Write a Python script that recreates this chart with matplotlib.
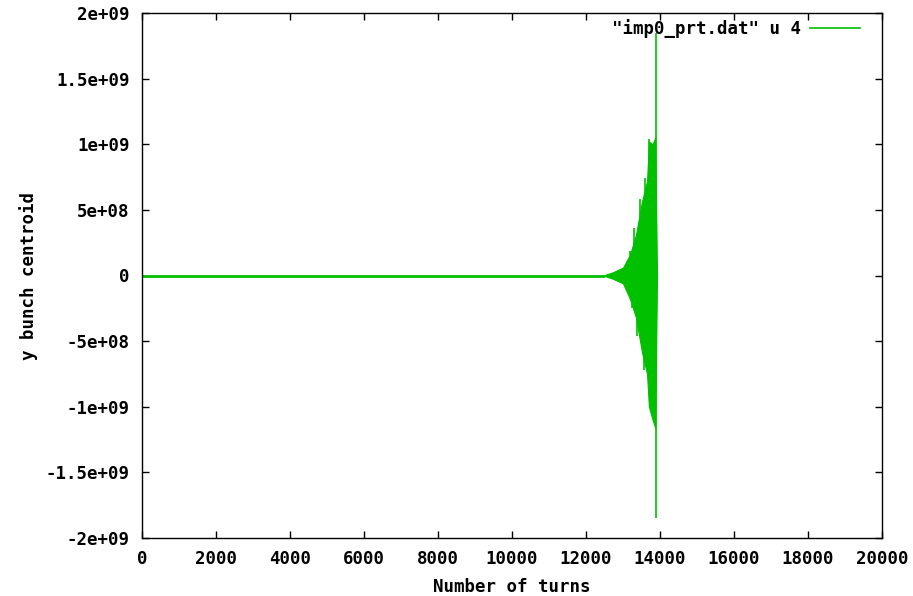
import numpy as np
import matplotlib
matplotlib.use('Agg')
from matplotlib import pyplot as plt

# flat part: centroid stays at zero until instability starts
flat_turns = [0, 12460]
flat_y = [0, 0]

# envelope of the growing oscillation
env_turns = [12460, 12730, 13000, 13190, 13350, 13510, 13650, 13700, 13800, 13870, 13920]
env_hi = [0, 2.5e7, 6e7, 1.6e8, 3.1e8, 5.6e8, 7.2e8, 1.02e9, 1.0e9, 1.05e9, 0]
env_lo = [0, -2.5e7, -6e7, -1.8e8, -3.2e8, -5.8e8, -7.5e8, -1.0e9, -1.1e9, -1.16e9, 0]

# single spikes sticking out of the envelope
spike_turns = [13180, 13310, 13470, 13600, 13700, 13760, 13230, 13390, 13560,
               13890, 13890]
spike_y = [1.9e8, 3.6e8, 5.8e8, 7.4e8, 1.04e9, -1.0e9, -2.5e8, -4.6e8, -7.2e8,
           1.85e9, -1.85e9]

x_ticks = np.arange(0, 20001, 2000)
y_ticks = np.arange(-2e9, 2.01e9, 5e8)
y_labels = ['-2e+09', '-1.5e+09', '-1e+09', '-5e+08', '0',
            '5e+08', '1e+09', '1.5e+09', '2e+09']

green = '#00c000'
font = {'family': 'DejaVu Sans Mono', 'weight': 'bold', 'size': 12.5}

fig = plt.figure(figsize=(9.13, 5.96), dpi=100)
ax = fig.add_axes([142/913, 1-538/596, (882-142)/913, (538-13)/596])

line, = ax.plot(flat_turns, flat_y, color=green, lw=2)
ax.fill_between(env_turns, env_lo, env_hi, color=green, lw=0.8)
ax.vlines(spike_turns, 0, spike_y, color=green, lw=1.2)

ax.set_xlim(0, 20000)
ax.set_ylim(-2e9, 2e9)
ax.set_xticks(x_ticks)
ax.set_xticklabels([str(t) for t in x_ticks], fontdict=font)
ax.set_yticks(y_ticks)
ax.set_yticklabels(y_labels, fontdict=font)
ax.tick_params(direction='in', length=5, width=1, top=True, right=True, pad=9)
for s in ax.spines.values():
    s.set_linewidth(1)

ax.set_xlabel('Number of turns', fontdict=font, labelpad=6.5)
ax.set_ylabel('y bunch centroid', fontdict=font, labelpad=5.5)

leg = ax.legend([line], ['"imp0_prt.dat" u 4'], loc='upper right',
                bbox_to_anchor=(0.992, 1.018), frameon=False, markerfirst=False,
                handlelength=2.9, handletextpad=0.5, prop=font)
leg.get_lines()[0].set_linewidth(1.2)

fig.savefig('out.png', dpi=100)
